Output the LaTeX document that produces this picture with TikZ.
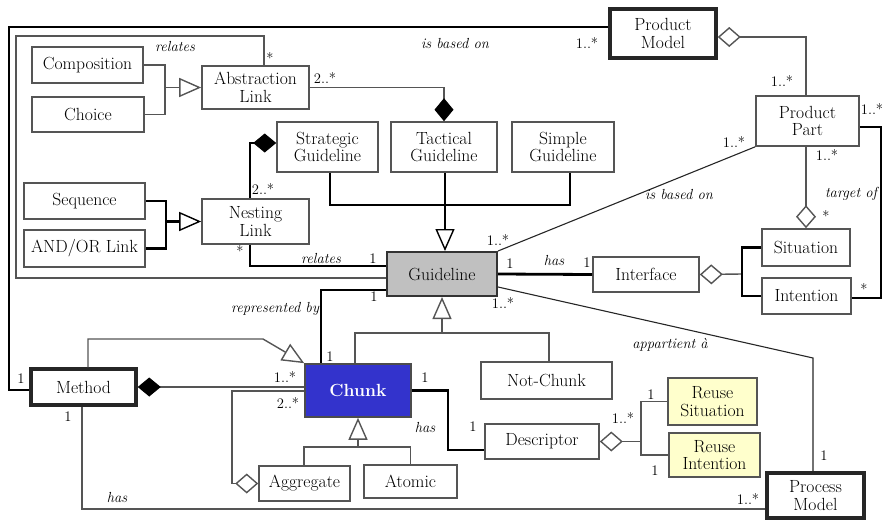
\documentclass[tikz,border=0pt]{standalone}
\usepackage{fontspec}
\usetikzlibrary{arrows.meta}
\definecolor{lgray}{HTML}{555555}
\definecolor{chunkblue}{HTML}{3333CC}
\definecolor{ryellow}{HTML}{FFFFCC}
\definecolor{gfill}{HTML}{C0C0C0}
\tikzset{
  odia/.tip={Diamond[fill=white, length=23pt, width=20pt, line width=1.4pt]},
  fdia/.tip={Diamond[fill=black, color=black, length=23pt, width=19pt, line width=1pt]},
  otri/.tip={Triangle[fill=white, length=22pt, width=19pt, line width=1.4pt]},
}
\begin{document}
\begin{tikzpicture}[x=1pt,y=-1pt,
  box/.style={draw=lgray, line width=1.6pt, fill=white, inner sep=0pt, align=center,
    font=\rmfamily\fontsize{17.6}{17.5}\selectfont},
  bigbox/.style={box, draw=black!85, line width=3.5pt},
  thinl/.style={draw=lgray, line width=1.4pt},
  hairl/.style={draw=black!85, line width=1.1pt},
  thickl/.style={draw=black, line width=2.8pt},
  lab/.style={font=\rmfamily\fontsize{14.6}{16}\selectfont\itshape, inner sep=0pt},
  mult/.style={font=\rmfamily\fontsize{14.6}{16}\selectfont, inner sep=0pt},
  gen/.style={-{otri}},
]
\useasboundingbox (0,0) rectangle (883,522);

% ---------- nodes ----------
\node[box, minimum width=111pt, minimum height=36pt] (comp) at (87.5,65) {Composition};
\node[box, minimum width=112pt, minimum height=35pt] (choice) at (88,114.5) {Choice};
\node[box, minimum width=107pt, minimum height=43pt] (abs) at (255.5,87.5) {Abstraction\\Link};
\node[box, minimum width=101pt, minimum height=50pt] (strat) at (327.5,147) {Strategic\\Guideline};
\node[box, minimum width=106pt, minimum height=50pt] (tact) at (444,147) {Tactical\\Guideline};
\node[box, minimum width=102pt, minimum height=50pt] (simple) at (563,147) {Simple\\Guideline};
\node[box, minimum width=121pt, minimum height=36pt] (seq) at (84.5,201) {Sequence};
\node[box, minimum width=121pt, minimum height=37pt] (andor) at (84.5,248.5) {AND/OR Link};
\node[box, minimum width=107pt, minimum height=45pt] (nest) at (255.5,221.5) {Nesting\\Link};
\node[box, fill=gfill, draw=black!80, line width=2pt, minimum width=110pt, minimum height=44pt] (guide) at (442,274) {Guideline};
\node[bigbox, minimum width=106pt, minimum height=49pt] (pm) at (663,33.5) {Product\\Model};
\node[box, minimum width=103pt, minimum height=50pt] (pp) at (807.5,121) {Product\\Part};
\node[box, minimum width=88pt, minimum height=37pt] (sit) at (806,247.5) {Situation};
\node[box, minimum width=89pt, minimum height=36pt] (int) at (806.5,296) {Intention};
\node[box, minimum width=106pt, minimum height=35pt] (iface) at (646,274.5) {Interface};
\node[bigbox, minimum width=105pt, minimum height=36pt] (method) at (83.5,387) {Method};
\node[box, fill=chunkblue, draw=black!70, text=white, minimum width=106pt, minimum height=53pt,
  font=\rmfamily\fontsize{17.6}{17.5}\selectfont\bfseries] (chunk) at (358,390.5) {Chunk};
\node[box, minimum width=91pt, minimum height=35pt] (aggr) at (304.5,483.5) {Aggregate};
\node[box, minimum width=93pt, minimum height=33pt] (atomic) at (410.5,481.5) {Atomic};
\node[box, minimum width=131pt, minimum height=37pt] (notchunk) at (546.5,380.5) {Not-Chunk};
\node[box, minimum width=114pt, minimum height=35pt] (desc) at (542,441.5) {Descriptor};
\node[box, fill=ryellow, minimum width=89pt, minimum height=47pt] (rsit) at (712.5,401.5) {Reuse\\Situation};
\node[box, fill=ryellow, minimum width=91pt, minimum height=44pt] (rint) at (714.5,455) {Reuse\\Intention};
\node[bigbox, minimum width=97pt, minimum height=45pt] (procm) at (815.5,495.5) {Process\\Model};

% ---------- junctions ----------
\coordinate (j1) at (165,87.5);
\coordinate (j2) at (166,221.5);
\coordinate (jg) at (445,205);
\coordinate (j3) at (442,333);
\coordinate (j4) at (742,274);
\coordinate (j5) at (358,447);
\coordinate (j6) at (641,441.5);

% ---------- connectors ----------
% outer frame (Method -- Product Model)
\draw[thickl] (method.west |- 0,390) -- (9,390) -- (9,27) -- (pm.west |- 0,27);
% inner frame (Abstraction Link relates Guideline)
\draw[thinl] (abs.north -| 264,0) -- (264,36) -- (16,36) -- (16,278) -- (guide.west |- 0,278);

% Composition / Choice -> Abstraction Link
\draw[thinl] (comp.east) -| (j1) |- (choice.east);
\draw[thinl, gen] (j1) -- (abs.west);
% Sequence / AND-OR -> Nesting Link
\draw[thickl] (seq.east) -| (j2) |- (andor.east);
\draw[thickl, gen] (j2) -- (nest.west);

% Abstraction Link -- Tactical Guideline
\draw[thinl, -{fdia}] (abs.east) -| (tact.north);
% Nesting Link -- Strategic Guideline
\draw[thickl, -{fdia}] (nest.north -| 250,0) |- (strat.west |- 0,143);

% Strategic / Tactical / Simple -> Guideline
\draw[thickl] (strat.south -| 330,0) |- (jg) -| (simple.south -| 570,0);
\draw[thickl, gen] (tact.south -| 445,0) -- (guide.north -| 445,0);

% Nesting Link relates Guideline
\draw[thickl] (nest.south -| 250,0) |- (guide.west |- 0,266);
% Guideline represented by Chunk
\draw[thickl] (guide.west |- 0,290) -| (chunk.north -| 321,0);
% Guideline has Interface
\draw[thickl] (guide.east) -- (iface.west);
% Guideline is based on Product Part
\draw[hairl] (guide.north east) -- (pp.south west);
% Guideline appartient a Process Model
\draw[hairl] (guide.east |- 0,287) -- (813,358) -- (procm.north -| 813,0);

% Chunk / Not-Chunk -> Guideline
\draw[thinl] (chunk.north -| 355,0) |- (j3) -| (notchunk.north -| 549,0);
\draw[thinl, gen] (j3) -- (guide.south);

% Product Model -- Product Part
\draw[thinl, {odia}-] (pm.east |- 0,37) -| (pp.north -| 806,0);
% Product Part -- Situation
\draw[thinl, -{odia}] (pp.south -| 806,0) -- (sit.north);
% Product Part target of Intention
\draw[thickl] (pp.east |- 0,127) -- (881,127) -- (881,298) -- (int.east |- 0,298);
% Interface -- Situation / Intention
\draw[thinl, {odia}-] (iface.east) -- (j4);
\draw[thickl] (sit.west) -| (j4) |- (int.west);

% Method -> Chunk (generalization)
\draw[thinl, gen] (method.north -| 88,0) -- (88,339) -- (263,339) -- (chunk.north west);
% Method -- Chunk (composition)
\draw[thinl, {fdia}-] (method.east) -- (chunk.west |- method.east);
% Chunk -- Aggregate
\draw[thinl, -{odia}] (chunk.west |- 0,391) -- (232,391) -- (232,483.5) -- (aggr.west);
% Aggregate / Atomic -> Chunk
\draw[thinl] (aggr.north -| 304,0) |- (j5) -| (atomic.north);
\draw[thinl, gen] (j5) -- (chunk.south);
% Chunk has Descriptor
\draw[thickl] (chunk.east) -- (448,390.5) -- (448,450) -- (desc.west |- 0,450);
% Descriptor -- Reuse Situation / Reuse Intention
\draw[thinl, {odia}-] (desc.east) -- (j6);
\draw[thinl] (rsit.west) -| (j6) |- (rint.west);
% Method has Process Model
\draw[thinl] (method.south -| 82,0) -- (82,509) -- (procm.west |- 0,509);

% ---------- labels ----------
\node[lab] (t1) at (175,47) {relates};
\node[lab] (t2) at (455,44) {is based on};
\node[lab] (t3) at (679,195) {is based on};
\node[lab] (t4) at (851,194) {target of};
\node[lab] (t5) at (554,261) {has};
\node[lab] (t6) at (321,259) {relates};
\node[lab] (t7) at (275,309) {represented by};
\node[lab] (t8) at (425,428) {has};
\node[lab] (t9) at (117,498) {has};
\node[lab] (t10) at (670,345) {appartient à};

\node[mult] (m1) at (270,58) {*};
\node[mult] (m2) at (325,78) {2..*};
\node[mult] (m3) at (587,43) {1..*};
\node[mult] (m4) at (782,81) {1..*};
\node[mult] (m5) at (872,109) {1..*};
\node[mult] (m6) at (734,142) {1..*};
\node[mult] (m7) at (827,155) {1..*};
\node[mult] (m8) at (826,216) {*};
\node[mult] (m9) at (498,240) {1..*};
\node[mult] (m10) at (510,264) {1};
\node[mult] (m11) at (587,263) {1};
\node[mult] (m12) at (503,303) {1..*};
\node[mult] (m13) at (864,289) {*};
\node[mult] (m14) at (263,189) {2..*};
\node[mult] (m15) at (240,251) {*};
\node[mult] (m16) at (373,259) {1};
\node[mult] (m17) at (374,297) {1};
\node[mult] (m18) at (330,357) {1};
\node[mult] (m19) at (21,379) {1};
\node[mult] (m20) at (285,377) {1..*};
\node[mult] (m21) at (288,403) {2..*};
\node[mult] (m22) at (68,417) {1};
\node[mult] (m23) at (425,378) {1};
\node[mult] (m24) at (473,427) {1};
\node[mult] (m25) at (623,418) {1..*};
\node[mult] (m26) at (651,395) {1};
\node[mult] (m27) at (655,471) {1};
\node[mult] (m28) at (824,456) {1};
\node[mult] (m29) at (748,499) {1..*};
\end{tikzpicture}
\end{document}
